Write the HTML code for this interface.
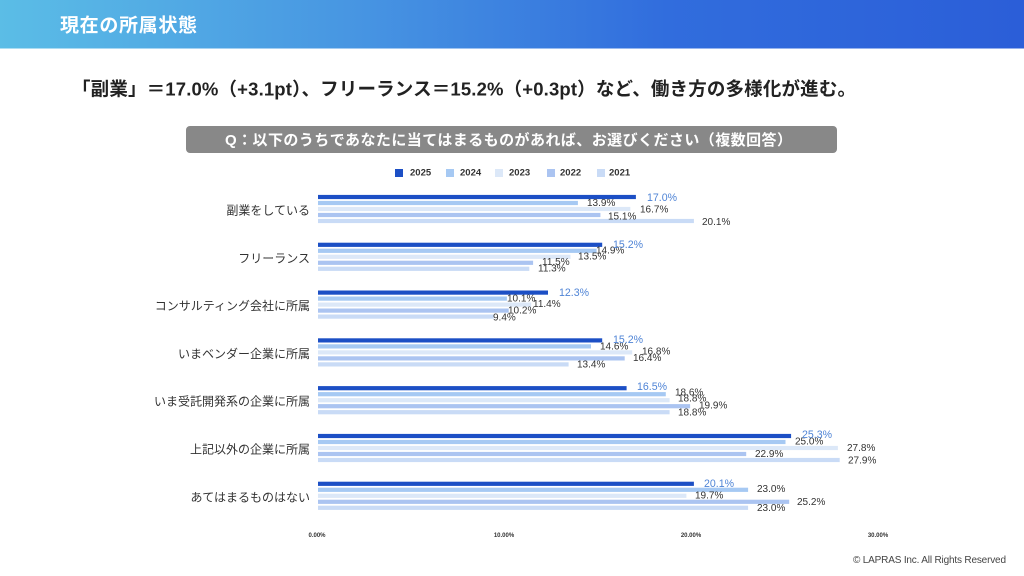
<!DOCTYPE html>
<html lang="ja">
<head>
<meta charset="utf-8">
<style>
  html,body{margin:0;padding:0;background:#fff;}
  body{width:1024px;height:576px;overflow:hidden;}
  svg{display:block;}
  text{font-family:"Liberation Sans","Noto Sans CJK JP",sans-serif;}
  .cat{font-size:12px;fill:#333;}
  .v{font-size:10px;fill:#333;}
  .b{font-size:10.6px;fill:#4f84d6;}
  .lg{font-size:9.5px;font-weight:bold;fill:#333;}
  .tk{font-size:6px;font-weight:bold;fill:#333;}
</style>
</head>
<body>
<svg width="1024" height="576" viewBox="0 0 1024 576" xmlns="http://www.w3.org/2000/svg">
  <defs>
    <linearGradient id="hg" x1="0" y1="0" x2="1" y2="0">
      <stop offset="0" stop-color="#5bbde6"/>
      <stop offset="0.35" stop-color="#4795e2"/>
      <stop offset="0.65" stop-color="#316ddd"/>
      <stop offset="1" stop-color="#2b5ed8"/>
    </linearGradient>
  </defs>
  <rect x="0" y="0" width="1024" height="48.5" fill="url(#hg)"/>
  <text x="60" y="26" dominant-baseline="central" font-size="19" font-weight="bold" fill="#fff" textLength="137" lengthAdjust="spacing">現在の所属状態</text>

  <text x="72" y="89" dominant-baseline="central" font-size="18.5" font-weight="bold" fill="#222" textLength="784" lengthAdjust="spacing">「副業」＝17.0%（+3.1pt）、フリーランス＝15.2%（+0.3pt）など、働き方の多様化が進む。</text>

  <rect x="186" y="126" width="651" height="27" rx="4" ry="4" fill="#888"/>
  <text x="225" y="140.5" dominant-baseline="central" font-size="15" font-weight="bold" fill="#fff" textLength="567" lengthAdjust="spacing">Q：以下のうちであなたに当てはまるものがあれば、お選びください（複数回答）</text>

  <!-- legend -->
  <rect x="395" y="169" width="8" height="8" fill="#1c4fc5"/>
  <text x="410" y="173" dominant-baseline="central" class="lg">2025</text>
  <rect x="446" y="169" width="8" height="8" fill="#a6c9f3"/>
  <text x="460" y="173" dominant-baseline="central" class="lg">2024</text>
  <rect x="495" y="169" width="8" height="8" fill="#dce8f8"/>
  <text x="509" y="173" dominant-baseline="central" class="lg">2023</text>
  <rect x="547" y="169" width="8" height="8" fill="#abc4f1"/>
  <text x="560" y="173" dominant-baseline="central" class="lg">2022</text>
  <rect x="597" y="169" width="8" height="8" fill="#c9dbf6"/>
  <text x="609" y="173" dominant-baseline="central" class="lg">2021</text>

  <!-- category labels -->
  <text x="310" y="210.5" text-anchor="end" dominant-baseline="central" class="cat">副業をしている</text>
  <text x="310" y="258.3" text-anchor="end" dominant-baseline="central" class="cat">フリーランス</text>
  <text x="310" y="306.1" text-anchor="end" dominant-baseline="central" class="cat">コンサルティング会社に所属</text>
  <text x="310" y="353.9" text-anchor="end" dominant-baseline="central" class="cat">いまベンダー企業に所属</text>
  <text x="310" y="401.7" text-anchor="end" dominant-baseline="central" class="cat">いま受託開発系の企業に所属</text>
  <text x="310" y="449.5" text-anchor="end" dominant-baseline="central" class="cat">上記以外の企業に所属</text>
  <text x="310" y="497.3" text-anchor="end" dominant-baseline="central" class="cat">あてはまるものはない</text>

  <!-- bars -->
  <g>
    <!-- G0 -->
    <rect x="318" y="194.9" width="317.9" height="4.2" fill="#1c4fc5"/>
    <rect x="318" y="200.9" width="259.9" height="4.2" fill="#a6c9f3"/>
    <rect x="318" y="206.9" width="312.3" height="4.2" fill="#dce8f8"/>
    <rect x="318" y="212.9" width="282.4" height="4.2" fill="#abc4f1"/>
    <rect x="318" y="218.9" width="375.9" height="4.2" fill="#c9dbf6"/>
    <!-- G1 -->
    <rect x="318" y="242.7" width="284.2" height="4.2" fill="#1c4fc5"/>
    <rect x="318" y="248.7" width="278.6" height="4.2" fill="#a6c9f3"/>
    <rect x="318" y="254.7" width="252.5" height="4.2" fill="#dce8f8"/>
    <rect x="318" y="260.7" width="215.1" height="4.2" fill="#abc4f1"/>
    <rect x="318" y="266.7" width="211.3" height="4.2" fill="#c9dbf6"/>
    <!-- G2 -->
    <rect x="318" y="290.5" width="230.0" height="4.2" fill="#1c4fc5"/>
    <rect x="318" y="296.5" width="188.9" height="4.2" fill="#a6c9f3"/>
    <rect x="318" y="302.5" width="213.2" height="4.2" fill="#dce8f8"/>
    <rect x="318" y="308.5" width="190.7" height="4.2" fill="#abc4f1"/>
    <rect x="318" y="314.5" width="175.8" height="4.2" fill="#c9dbf6"/>
    <!-- G3 -->
    <rect x="318" y="338.3" width="284.2" height="4.2" fill="#1c4fc5"/>
    <rect x="318" y="344.3" width="273.0" height="4.2" fill="#a6c9f3"/>
    <rect x="318" y="350.3" width="314.2" height="4.2" fill="#dce8f8"/>
    <rect x="318" y="356.3" width="306.7" height="4.2" fill="#abc4f1"/>
    <rect x="318" y="362.3" width="250.6" height="4.2" fill="#c9dbf6"/>
    <!-- G4 -->
    <rect x="318" y="386.1" width="308.6" height="4.2" fill="#1c4fc5"/>
    <rect x="318" y="392.1" width="347.8" height="4.2" fill="#a6c9f3"/>
    <rect x="318" y="398.1" width="351.6" height="4.2" fill="#dce8f8"/>
    <rect x="318" y="404.1" width="372.1" height="4.2" fill="#abc4f1"/>
    <rect x="318" y="410.1" width="351.6" height="4.2" fill="#c9dbf6"/>
    <!-- G5 -->
    <rect x="318" y="433.9" width="473.1" height="4.2" fill="#1c4fc5"/>
    <rect x="318" y="439.9" width="467.5" height="4.2" fill="#a6c9f3"/>
    <rect x="318" y="445.9" width="519.9" height="4.2" fill="#dce8f8"/>
    <rect x="318" y="451.9" width="428.2" height="4.2" fill="#abc4f1"/>
    <rect x="318" y="457.9" width="521.7" height="4.2" fill="#c9dbf6"/>
    <!-- G6 -->
    <rect x="318" y="481.7" width="375.9" height="4.2" fill="#1c4fc5"/>
    <rect x="318" y="487.7" width="430.1" height="4.2" fill="#a6c9f3"/>
    <rect x="318" y="493.7" width="368.4" height="4.2" fill="#dce8f8"/>
    <rect x="318" y="499.7" width="471.2" height="4.2" fill="#abc4f1"/>
    <rect x="318" y="505.7" width="430.1" height="4.2" fill="#c9dbf6"/>
  </g>

  <!-- value labels -->
  <g dominant-baseline="central">
    <text x="587" y="203.5" class="v">13.9%</text>
    <text x="640" y="210" class="v">16.7%</text>
    <text x="608" y="217" class="v">15.1%</text>
    <text x="702" y="222.5" class="v">20.1%</text>
    <text x="647" y="198" class="b">17.0%</text>

    <text x="596" y="251" class="v">14.9%</text>
    <text x="578" y="257" class="v">13.5%</text>
    <text x="542" y="262.5" class="v">11.5%</text>
    <text x="538" y="269" class="v">11.3%</text>
    <text x="613" y="245" class="b">15.2%</text>

    <text x="507" y="299" class="v">10.1%</text>
    <text x="533" y="304.5" class="v">11.4%</text>
    <text x="508" y="311" class="v">10.2%</text>
    <text x="493" y="318" class="v">9.4%</text>
    <text x="559" y="293" class="b">12.3%</text>

    <text x="600" y="347" class="v">14.6%</text>
    <text x="642" y="352" class="v">16.8%</text>
    <text x="633" y="358.5" class="v">16.4%</text>
    <text x="577" y="365" class="v">13.4%</text>
    <text x="613" y="340" class="b">15.2%</text>

    <text x="675" y="393" class="v">18.6%</text>
    <text x="678" y="399" class="v">18.8%</text>
    <text x="699" y="406" class="v">19.9%</text>
    <text x="678" y="413" class="v">18.8%</text>
    <text x="637" y="387" class="b">16.5%</text>

    <text x="795" y="442" class="v">25.0%</text>
    <text x="847" y="448.5" class="v">27.8%</text>
    <text x="755" y="454.5" class="v">22.9%</text>
    <text x="848" y="461" class="v">27.9%</text>
    <text x="802" y="435" class="b">25.3%</text>

    <text x="757" y="489.5" class="v">23.0%</text>
    <text x="695" y="496" class="v">19.7%</text>
    <text x="797" y="502.5" class="v">25.2%</text>
    <text x="757" y="508.5" class="v">23.0%</text>
    <text x="704" y="484" class="b">20.1%</text>
  </g>

  <!-- x ticks -->
  <text x="317" y="536" text-anchor="middle" dominant-baseline="central" class="tk">0.00%</text>
  <text x="504" y="536" text-anchor="middle" dominant-baseline="central" class="tk">10.00%</text>
  <text x="691" y="536" text-anchor="middle" dominant-baseline="central" class="tk">20.00%</text>
  <text x="878" y="536" text-anchor="middle" dominant-baseline="central" class="tk">30.00%</text>

  <text x="853" y="560.5" dominant-baseline="central" font-size="10" fill="#444" textLength="153" lengthAdjust="spacing">© LAPRAS Inc. All Rights Reserved</text>
</svg>
</body>
</html>
